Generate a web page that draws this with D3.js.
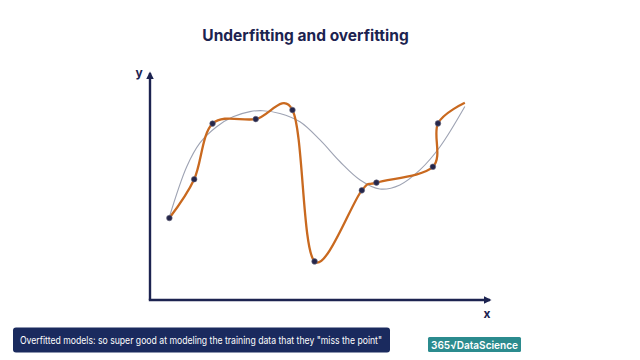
<!DOCTYPE html>
<html>
<head>
<meta charset="utf-8">
<script src="https://cdn.jsdelivr.net/npm/d3@7"></script>
<style>
  body { margin: 0; background: #fff; }
  svg { display: block; font-family: "Inter", "Lato", sans-serif; }
</style>
</head>
<body>
<script>
// training points (abstract units)
var pointX = [0.57, 1.30, 1.84, 3.11, 4.19, 4.84, 6.23, 6.66, 8.32, 8.47]
var pointY = [3.61, 5.32, 7.77, 7.97, 8.37, 1.70, 4.83, 5.17, 5.87, 7.78]

// overfitted curve: goes through every point and runs on a bit past the last one
var overX = pointX.concat([9.26])
var overY = pointY.concat([8.69])

// underfitted (smooth) curve
var underX = [0.56, 1.08, 1.47, 1.96, 2.44, 2.94, 3.32, 3.82, 4.41, 5.0, 5.59, 6.18, 6.76, 7.35, 7.94, 8.53, 9.26]
var underY = [3.61, 5.87, 6.92, 7.63, 8.07, 8.30, 8.34, 8.22, 7.85, 7.05, 6.09, 5.29, 4.89, 5.07, 5.73, 6.75, 8.52]

var title = "Underfitting and overfitting"
var caption = "Overfitted models: so super good at modeling the training data that they \"miss the point\""

var width = 640, height = 360
var margin_left = 150, margin_right = 150, margin_top = 73, margin_bottom = 60

var navy = "#1c2350"

var svg = d3.select("body").append("svg")
    .attr("width", width)
    .attr("height", height)

var xScale = d3.scaleLinear().domain([0, 10]).range([margin_left, width - margin_right])
var yScale = d3.scaleLinear().domain([0, 10]).range([height - margin_bottom, margin_top])

function zip(xs, ys) {
    return xs.map((x, i) => { return {x: x, y: ys[i]} })
}

// arrow head
svg.append("defs").append("marker")
    .attr("id", "arrow")
    .attr("viewBox", "0 0 10 10")
    .attr("refX", 8).attr("refY", 5)
    .attr("markerWidth", 3.2).attr("markerHeight", 3.2)
    .attr("orient", "auto")
    .append("path")
    .attr("d", "M0,0 L10,5 L0,10 Z")
    .attr("fill", navy)

// axes
svg.append("line")
    .attr("x1", xScale(0)).attr("y1", yScale(0))
    .attr("x2", xScale(0)).attr("y2", yScale(10))
    .attr("stroke", navy).attr("stroke-width", 2.4)
    .attr("marker-end", "url(#arrow)")

svg.append("line")
    .attr("x1", xScale(0) - 1.2).attr("y1", yScale(0))
    .attr("x2", xScale(10)).attr("y2", yScale(0))
    .attr("stroke", navy).attr("stroke-width", 2.4)
    .attr("marker-end", "url(#arrow)")

svg.append("text")
    .attr("x", xScale(0) - 11).attr("y", yScale(10) + 4)
    .attr("text-anchor", "middle")
    .attr("font-size", 12).attr("font-weight", 700)
    .attr("fill", navy)
    .text("y")

svg.append("text")
    .attr("x", xScale(10) - 3).attr("y", yScale(0) + 18)
    .attr("text-anchor", "middle")
    .attr("font-size", 12).attr("font-weight", 700)
    .attr("fill", navy)
    .text("x")

// lines
var smooth = d3.line()
    .x(d => xScale(d.x))
    .y(d => yScale(d.y))
    .curve(d3.curveCatmullRom.alpha(0.5))

var wiggly = d3.line()
    .x(d => xScale(d.x))
    .y(d => yScale(d.y))
    .curve(d3.curveCatmullRom.alpha(0.1))

svg.append("path")
    .attr("d", smooth(zip(underX, underY)))
    .attr("fill", "none")
    .attr("stroke", "#9ea3b3")
    .attr("stroke-width", 1.1)

svg.append("path")
    .attr("d", wiggly(zip(overX, overY)))
    .attr("fill", "none")
    .attr("stroke", "#c9691f")
    .attr("stroke-width", 2.3)

svg.selectAll(".pt")
    .data(zip(pointX, pointY))
    .enter().append("circle")
    .attr("class", "pt")
    .attr("cx", d => xScale(d.x))
    .attr("cy", d => yScale(d.y))
    .attr("r", 2.8)
    .attr("fill", "#25264a")
    .attr("stroke", "#6a6a80")
    .attr("stroke-width", 0.6)

// title
svg.append("text")
    .attr("x", 305.5).attr("y", 41)
    .attr("text-anchor", "middle")
    .attr("font-size", 15.5).attr("font-weight", 700)
    .attr("fill", navy)
    .text(title)

// caption box
svg.append("rect")
    .attr("x", 13).attr("y", 327.5)
    .attr("width", 377).attr("height", 25)
    .attr("rx", 3)
    .attr("fill", "#1a2a5e")

svg.append("text")
    .attr("x", 20).attr("y", 344)
    .attr("font-size", 10.5)
    .attr("textLength", 362)
    .attr("lengthAdjust", "spacingAndGlyphs")
    .attr("fill", "#fff")
    .text(caption)

// logo
svg.append("rect")
    .attr("x", 428).attr("y", 337)
    .attr("width", 93).attr("height", 15)
    .attr("rx", 1.5)
    .attr("fill", "#2b8b8e")

svg.append("text")
    .attr("x", 431).attr("y", 349)
    .attr("font-size", 11).attr("font-weight", 600)
    .attr("textLength", 87)
    .attr("lengthAdjust", "spacingAndGlyphs")
    .attr("fill", "#fff")
    .text("365\u221ADataScience")
</script>
</body>
</html>
